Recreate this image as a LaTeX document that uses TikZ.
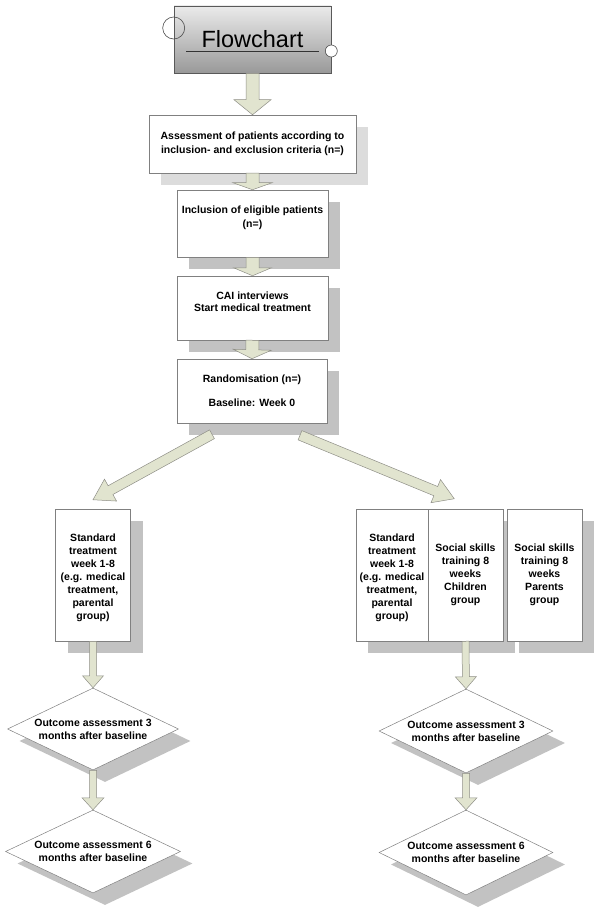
\documentclass[tikz,border=0pt]{standalone}
\usepackage{fontspec}
\setmainfont{Liberation Sans}
\usepackage{tikz}
\usetikzlibrary{shapes.geometric, shadows, calc, positioning}
\definecolor{arrowfill}{HTML}{E1E4CF}
\definecolor{arrowline}{HTML}{8E8E86}
\definecolor{boxline}{HTML}{808080}
\definecolor{shadowgray}{HTML}{C2C2C2}
\definecolor{shadowlight}{HTML}{DCDCDC}
\tikzstyle{procbox} = [rectangle, draw=boxline, line width=0.5pt, fill=white, align=center, inner sep=2pt, font=\bfseries\fontsize{10.5}{13}\selectfont, drop shadow={shadow xshift=12pt, shadow yshift=-12pt, fill=shadowgray, opacity=1}]
\tikzstyle{decide} = [diamond, aspect=2.1, draw=boxline, line width=0.5pt, fill=white, align=center, inner sep=0pt, font=\bfseries\fontsize{10.5}{13}\selectfont, drop shadow={shadow xshift=12pt, shadow yshift=-12pt, fill=shadowgray, opacity=1}]
\tikzstyle{titlebox} = [rectangle, draw=black!65, line width=0.6pt, top color=black!8, bottom color=black!40, font=\fontsize{23.5}{28}\selectfont]
\tikzstyle{fatarrow} = [draw=arrowline, line width=0.5pt, fill=arrowfill, line join=miter]
% block arrow: start, tip, shaft half width, head half width, head length
\newcommand{\fatarrow}[5]{%
  \coordinate (fa-h) at ($(#2)!#5!(#1)$);
  \draw[fatarrow] ($(#1)!#3!90:(#2)$) -- ($(fa-h)!#3!-90:(#1)$) -- ($(fa-h)!#4!-90:(#1)$) -- (#2)
    -- ($(fa-h)!#4!90:(#1)$) -- ($(fa-h)!#3!90:(#1)$) -- ($(#1)!#3!-90:(#2)$) -- cycle;
}

\begin{document}
\begin{tikzpicture}[x=1pt, y=-1pt]
        \useasboundingbox (0,0) rectangle (600,909);

        % Title
        \node[titlebox, minimum width=157pt, minimum height=67pt] (title) at (252.5,39.5) {Flowchart};
        \draw[black!70, line width=0.6pt] ([yshift=11.5pt]title.west) circle (11pt);
        \draw[black!80, line width=0.6pt] (186,51) -- (319,51);
        \draw[black!70, line width=0.6pt, fill=white] ([yshift=-11.5pt]title.east) circle (6pt);

        % Main column
        \node[procbox, minimum width=207pt, minimum height=58pt, font=\bfseries\fontsize{10.5}{14}\selectfont,
              drop shadow={shadow xshift=12pt, shadow yshift=-12pt, fill=shadowlight, opacity=1}] (assess) at (252.5,144)
              {Assessment of patients according to\\inclusion- and exclusion criteria (n=)};
        \node[procbox, minimum width=151pt, minimum height=67pt, font=\bfseries\fontsize{10.5}{14}\selectfont] (incl) at (252.5,223.5)
              {Inclusion of eligible patients\\(n=)\\~};
        \node[procbox, minimum width=151pt, minimum height=64pt, font=\bfseries\fontsize{10.5}{12}\selectfont] (cai) at (252.5,308)
              {CAI interviews\\Start medical treatment\\~};
        \node[procbox, minimum width=150pt, minimum height=64pt] (rand) at (252,391)
              {Randomisation (n=)\\[11pt]Baseline: Week 0};

        % Treatment arms
        \node[procbox, minimum width=75pt, minimum height=132pt] (stdl) at (93,575)
              {~\\Standard\\treatment\\week 1-8\\(e.g. medical\\treatment,\\parental\\group)};
        \node[procbox, minimum width=72pt, minimum height=132pt] (stdr) at (392,575)
              {~\\Standard\\treatment\\week 1-8\\(e.g. medical\\treatment,\\parental\\group)};
        \node[procbox, minimum width=75pt, minimum height=132pt] (socc) at (465.5,575)
              {Social skills\\training 8\\weeks\\Children\\group};
        \node[procbox, minimum width=75pt, minimum height=132pt] (socp) at (544.5,575)
              {Social skills\\training 8\\weeks\\Parents\\group};

        % Outcome assessments
        \node[decide, minimum width=171pt, minimum height=82pt] (o3l) at (93,729) {Outcome assessment 3\\months after baseline};
        \node[decide, minimum width=175pt, minimum height=83pt] (o6l) at (93,851.5) {Outcome assessment 6\\months after baseline};
        \node[decide, minimum width=174pt, minimum height=84pt] (o3r) at (466,731) {Outcome assessment 3\\months after baseline};
        \node[decide, minimum width=174pt, minimum height=85pt] (o6r) at (466,852.5) {Outcome assessment 6\\months after baseline};

        % Arrows
        \fatarrow{title.south}{assess.north}{6.5pt}{18.5pt}{15pt}
        \fatarrow{assess.south}{incl.north}{6.5pt}{19.5pt}{7pt}
        \fatarrow{incl.south}{cai.north}{6.5pt}{19pt}{8pt}
        \fatarrow{cai.south}{rand.north}{6.5pt}{19pt}{9pt}

        \coordinate (dl-s) at ([xshift=-40pt,yshift=-11pt]rand.south);
        \coordinate (dl-e) at ([yshift=9pt]stdl.north);
        \coordinate (dr-s) at ([xshift=48pt,yshift=-12pt]rand.south);
        \coordinate (dr-e) at ([xshift=26pt,yshift=10pt]stdr.north east);
        \fatarrow{dl-s}{dl-e}{5pt}{12.5pt}{20pt}
        \fatarrow{dr-s}{dr-e}{5pt}{12.5pt}{20pt}

        \fatarrow{stdl.south}{o3l.north}{3.5pt}{10.5pt}{12pt}
        \fatarrow{o3l.south}{o6l.north}{3.5pt}{11pt}{12pt}
        \fatarrow{socc.south}{o3r.north}{3.5pt}{10.5pt}{12pt}
        \fatarrow{o3r.south}{o6r.north}{3.5pt}{11pt}{12pt}
    \end{tikzpicture}
\end{document}
